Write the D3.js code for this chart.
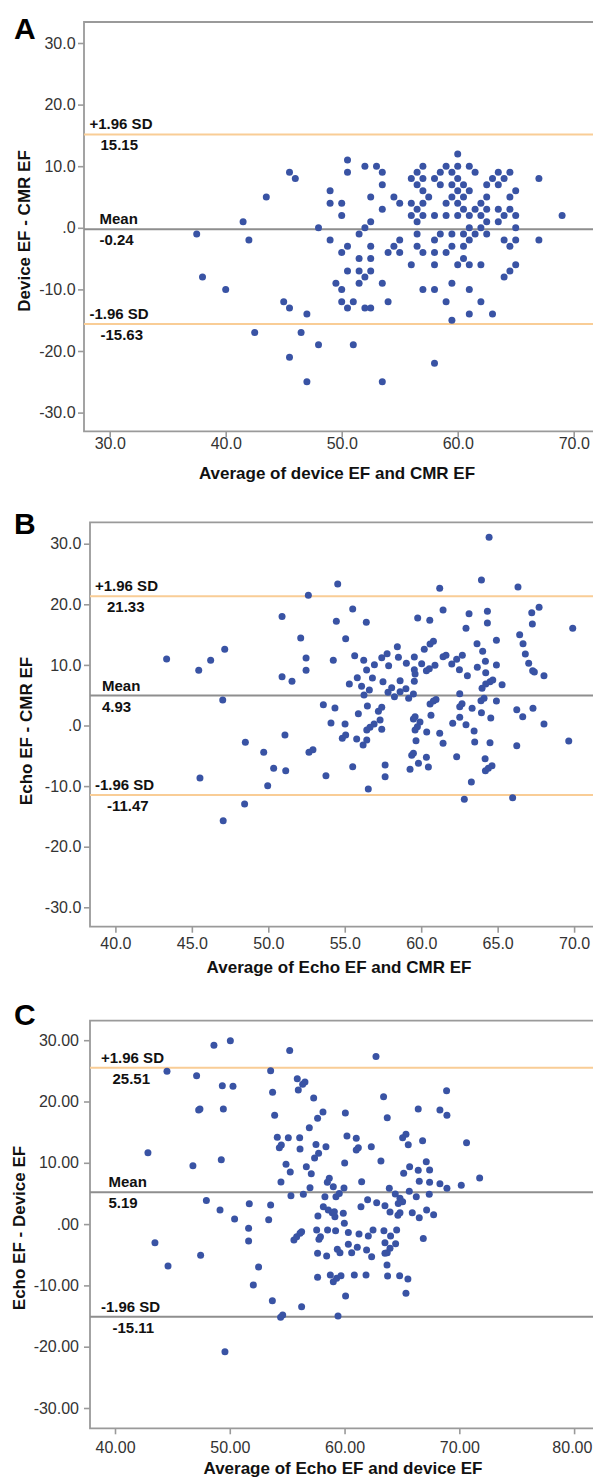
<!DOCTYPE html>
<html>
<head>
<meta charset="utf-8">
<script src="https://cdn.jsdelivr.net/npm/d3@7"></script>
<style>
body{margin:0;background:#fff}
text{font-family:"Liberation Sans",Arial,sans-serif}
</style>
</head>
<body>
<svg id="chart" width="593" height="1479"></svg>
<script>
//---tick values---
var yTicks=[-30,-20,-10,0,10,20,30]
var xTicksA=[30,40,50,60,70]
var xTicksB=[40,45,50,55,60,65,70]
var xTicksC=[40,50,60,70,80]

//---limits of agreement: +1.96 SD, mean, -1.96 SD---
var limitNames=["+1.96 SD","Mean","-1.96 SD"]
var limitsA=[15.15,-0.24,-15.63]
var limitsB=[21.33,4.93,-11.47]
var limitsC=[25.51,5.19,-15.11]

var xTitles=["Average of device EF and CMR EF","Average of Echo EF and CMR EF","Average of Echo EF and device EF"]
var yTitles=["Device EF - CMR EF","Echo EF - CMR EF","Echo EF - Device EF"]
var panelNames=["A","B","C"]

//---A: average (x), difference (y)---
var pointsA=[
[41.5,1],[43.5,5],[45.5,9],[46,8],[48,0],[49,6],[49,4],[50,4],[50,2],[50.5,11],[50.5,9],[52,10],[53,10],[53.5,9],[53.5,7],[52.5,5],[54.5,5],[53.5,3],[52.5,1],[52,0],
[55,4],[56,4],[56,8],[56.5,9],[57,10],[56.5,7],[57,8],[57,6],[57.5,5],[56.5,3],[57,4],[56,2],[56.5,1],[57,2],[58,2],[58,8],[58.5,9],[59,10],[58.5,7],[59.5,9],[59.5,7],[59,4],[59.5,5],[59,2],
[60,10],[60,8],[60,6],[60,4],[60,2],[60.5,7],[60.5,5],[60.5,3],[61,10],[61,6],[61.5,9],[61,2],[61.5,3],[61,0],[62,4],[62,2],[62,0],[62.5,7],[62.5,5],[62.5,3],[62.5,1],
[63,8],[63.5,9],[63.5,7],[63.5,3],[63.5,1],[64,8],[64,2],[64.5,9],[64.5,5],[64.5,3],[65,6],[65,2],[65,0],[67,8],[69,2],[60,12],
[37.5,-1],[42,-2],[38,-8],[40,-10],[45,-12],[45.5,-13],[47,-14],[42.5,-17],[46.5,-17],[48,-19],[51,-19],[45.5,-21],[47,-25],[53.5,-25],[49,-2],[51.5,-1],[50.5,-3],[50,-4],[52.5,-3],[54,-4],[54.5,-3],
[51.5,-5],[52.5,-5],[50.5,-7],[51.5,-7],[52.5,-7],[52,-8],[51.5,-9],[49.5,-9],[53.5,-9],[50,-10],[50,-12],[51,-12],[54,-12],[50.5,-13],[52,-13],[52.5,-13],
[56.5,-1],[58.5,-1],[59.5,-1],[60.5,-1],[61.5,-1],[62.5,-1],[55,-2],[58,-2],[61,-2],[64,-2],[65,-2],[67,-2],[56.5,-3],[59.5,-3],[60.5,-3],[64.5,-3],[55,-4],[57,-4],[58,-4],[59,-4],
[60.5,-5],[56,-6],[58,-6],[60,-6],[61,-6],[62,-6],[65,-6],[64.5,-7],[64,-8],[59.5,-9],[57,-10],[58,-10],[61,-10],[59,-12],[62,-12],[61,-14],[63,-14],[59.5,-15],[58,-22]
]

var pointsB=[
[54.54,23.35],[52.62,21.48],[55.52,19.22],[50.9,18.0],[54.45,17.19],[56.41,17.03],[52.12,14.44],[55.06,14.33],[43.35,10.97],[47.15,12.57],[46.23,10.75],[45.45,9.1],[52.47,11.14],[52.47,9.1],
[54.25,10.75],[55.65,11.52],[56.24,10.75],[50.9,8.06],[51.55,7.29],[55.82,7.89],[55.3,6.85],[56.1,6.46],[56.43,9.16],[47.02,4.21],[53.6,3.44],[54.36,2.89],[55.89,1.95],[54.1,0.41],[55.02,0.25],
[51.09,-1.57],[48.5,-2.78],[49.7,-4.43],[52.66,-4.43],[52.92,-3.99],[54.84,-2.12],[55.06,-1.57],[55.78,-2.23],[56.2,-3.2],[50.35,-7.07],[51.14,-7.46],[55.52,-6.8],[53.77,-8.28],[45.53,-8.66],
[49.96,-9.93],[56.54,-10.48],[48.45,-12.95],[47.05,-15.7],
[64.44,31.05],[63.94,24.01],[66.33,22.85],[61.21,22.63],[61.43,19.06],[63.13,18.45],[64.33,18.84],[64.33,16.91],[62.93,16.03],[67.23,18.62],[67.71,19.5],[67.27,16.75],[69.91,16.03],[59.77,17.74],
[60.56,17.35],[66.44,14.99],[66.66,13.5],[66.81,11.8],[67.03,10.26],[67.29,9.05],[67.4,8.83],[68.03,8.22],[64.92,14.05],[63.65,13.5],[64.02,12.24],[64.2,10.59],[64.92,9.98],[63.67,9.6],[64.22,8.72],
[63.02,8.22],[62.5,9.21],[62.69,11.58],[62.32,10.92],[62.0,10.15],[61.43,11.36],[61.62,11.58],[60.8,13.89],[60.58,13.45],[60.2,12.57],[60.9,9.93],[60.53,9.38],[60.34,9.05],[60.03,10.2],[59.55,11.3],
[59.55,9.21],[59.03,10.26],[58.44,13.01],[58.51,11.25],[57.87,9.87],[57.77,11.85],[57.42,11.19],[56.94,10.04],[56.81,7.84],[57.5,7.23],[58.62,7.4],[59.55,7.29],[59.6,8.5],[59.0,6.08],[59.49,5.2],
[59.18,4.48],[58.25,4.76],[58.62,5.58],[57.83,5.47],[58.07,6.24],[56.61,5.86],[56.26,5.03],[62.52,5.25],[63.98,6.13],[64.22,6.85],[64.5,7.23],[64.68,7.51],[65.29,6.74],[63.91,4.09],[64.11,4.48],
[64.92,4.04],[62.67,3.6],[62.52,3.11],[63.33,2.83],[63.94,2.12],[64.55,1.24],[62.52,1.35],[62.06,0.36],[62.93,0.14],[63.46,-0.91],[63.5,-2.72],[64.5,-2.83],[66.25,2.61],[66.64,1.46],[67.31,2.83],
[68.03,0.25],[66.25,-3.33],[69.65,-2.56],[62.32,-5.14],[64.18,-5.47],[64.2,-7.46],[64.39,-7.07],[64.63,-6.63],[63.28,-9.32],[62.82,-12.18],[65.98,-11.91],[61.21,-1.29],[61.43,-2.94],[60.36,-1.07],
[60.64,1.68],[59.92,0.58],[59.75,-0.19],[59.6,-0.74],[59.49,1.07],[59.6,1.46],[59.66,-2.5],[59.38,-4.92],[59.49,-4.59],[59.82,-6.24],[60.34,-5.25],[60.47,-6.85],[59.27,-7.24],[60.58,3.55],[60.8,4.04],
[60.97,4.31],[56.48,3.22],[57.42,3.0],[57.2,2.34],[57.31,0.91],[56.92,0.25],[56.65,-0.3],[56.44,-0.74],[57.42,-0.63],[56.44,-2.39],[57.64,-6.52],[57.64,-8.44]
]

var pointsC=[
[50.05,29.92],[48.62,29.16],[55.22,28.34],[44.53,24.92],[47.11,24.21],[53.56,25.03],[49.35,22.58],[50.28,22.47],[55.88,23.72],[56.55,23.18],[56.35,22.8],[55.97,21.87],[53.73,21.49],[57.31,20.57],
[47.4,18.77],[47.29,18.61],[49.44,18.77],[53.91,17.74],[58.12,18.28],[57.65,17.25],[56.93,15.73],[54.14,14.15],[55.1,14.1],[56.09,14.1],[54.49,12.9],[54.32,12.46],[56.12,12.25],[57.51,13.0],
[58.38,12.63],[57.74,11.54],[57.39,10.78],[42.87,11.65],[46.79,9.53],[49.26,10.51],[54.9,9.75],[55.27,8.5],[56.67,9.37],[57.1,8.22],[54.46,6.86],[58.67,7.46],[58.5,6.81],[56.99,5.94],[55.33,4.64],
[56.41,4.85],[47.96,3.87],[51.7,3.33],[53.56,3.11],[49.15,2.3],[50.42,0.83],[53.39,0.72],[51.64,-0.69],[51.64,-2.76],[43.48,-3.03],[47.46,-5.1],[44.62,-6.84],[52.51,-7.0],[52.05,-9.94],[53.71,-12.49],
[56.26,-13.47],[54.61,-14.83],[54.43,-15.21],[49.58,-20.81],[55.59,-2.6],[55.83,-2.05],[56.12,-1.51],[56.26,-1.24],[57.57,-0.97],[57.65,-4.77],[57.65,-8.69],[58.44,-5.21],[58.76,-8.31],[57.77,-2.49],
[57.9,-2.05],[58.52,-0.97],[58.15,2.84],[58.58,2.3],[58.93,1.86],[59.16,1.21],[57.68,1.32],[58.29,4.47],[59.43,-15.0],
[62.74,27.36],[68.89,21.76],[63.4,20.78],[66.42,18.77],[68.31,18.61],[68.92,17.74],[63.72,17.36],[60.07,18.12],[70.63,13.28],[65.35,14.64],[65.06,14.1],[65.55,12.95],[66.8,13.61],[60.21,14.37],
[61.02,13.99],[61.2,12.46],[61.02,12.08],[62.33,12.63],[60.01,9.96],[63.17,10.29],[67.12,10.18],[65.67,9.37],[65.15,8.28],[66.42,8.77],[67.41,8.82],[66.51,6.97],[67.41,6.81],[68.31,6.59],[68.92,5.83],
[70.17,6.32],[71.77,7.52],[61.49,6.92],[63.9,5.83],[65.64,5.34],[64.42,4.91],[66.25,4.47],[67.38,4.85],[64.83,4.2],[65.06,3.66],[64.68,3.38],[62.01,3.98],[62.8,3.5],[63.52,3.0],[61.43,2.84],[63.96,1.97],
[64.65,1.43],[64.83,1.86],[65.9,1.86],[66.51,1.05],[67.15,2.3],[67.76,1.53],[66.86,-2.33],[62.48,-0.97],[63.43,-1.08],[64.54,-0.97],[60.33,-1.35],[61.26,-1.62],[62.07,-1.95],[64.01,-1.95],[63.52,-3.03],
[64.45,-3.2],[60.33,-3.3],[61.11,-3.79],[60.62,-4.66],[61.92,-4.23],[62.36,-5.32],[63.96,-3.96],[63.72,-4.66],[63.52,-4.77],[63.7,-6.68],[60.85,-8.31],[61.87,-8.31],[63.75,-8.47],[64.8,-8.42],[65.52,-8.96],
[65.35,-11.3],[60.09,-11.73],[59.02,-9.4],[59.31,-8.85],[59.69,-8.42],[59.02,6.1],[59.95,5.88],[59.25,4.47],[59.54,5.0],[59.11,2.02],[59.89,1.75],[59.98,0.12],[59.22,-1.07],[59.37,-4.12],[59.6,-4.66]
]

//---layout of each panel (pixels)---
var ORANGE="#f9cd96", GREY="#8e8e8e", FRAME="#9a9a9a", DOT="#3953a4"
var panels=[
 {pts:pointsA, lims:limitsA, xTicks:xTicksA, dec:1, limColors:[ORANGE,GREY,ORANGE],
  left:84, top:22, bottom:431.3, xCal:[30,70,109.7,573.7], yCal:[-30,30,412.6,43.0],
  yPad:2.4, xPad:0.8, titleX:337, titleY:478.5, yTitleX:30, yTitleY:231, letterY:38.5,
  sdX:89.5, meanX:99.5, valX:100.5},
 {pts:pointsB, lims:limitsB, xTicks:xTicksB, dec:1, limColors:[ORANGE,GREY,ORANGE],
  left:90, top:522.3, bottom:926.7, xCal:[40,70,115.4,574.1], yCal:[-30,30,907.3,543.7],
  yPad:2.7, xPad:5.2, titleX:339, titleY:972.5, yTitleX:32, yTitleY:731, letterY:534,
  sdX:95, meanX:102, valX:107},
 {pts:pointsC, lims:limitsC, xTicks:xTicksC, dec:2, limColors:[ORANGE,GREY,GREY],
  left:90, top:1020.7, bottom:1428.3, xCal:[40,80,115,574.1], yCal:[-30,30,1408,1040.2],
  yPad:5, xPad:7.6, titleX:343, titleY:1474, yTitleX:24.6, yTitleY:1228, letterY:1025,
  sdX:101, meanX:108.5, valX:112.5}
]
var W=593

function fmt(dec)
{
    return function(v){
        var s=v.toFixed(dec)
        if(s.indexOf("0.")==0) s=s.slice(1)
        return s
    }
}

var svg=d3.select("#chart")

panels.forEach(function(p,i)
{
    var x=d3.scaleLinear().domain([p.xCal[0],p.xCal[1]]).range([p.xCal[2],p.xCal[3]])
    var y=d3.scaleLinear().domain([p.yCal[0],p.yCal[1]]).range([p.yCal[2],p.yCal[3]])
    var g=svg.append("g")

    //---axes (ticks + labels only, frame drawn below)---
    var ya=g.append("g").attr("transform","translate("+p.left+",0)")
      .call(d3.axisLeft(y).tickValues(yTicks).tickSize(6).tickPadding(p.yPad).tickFormat(fmt(p.dec)))
    var xa=g.append("g").attr("transform","translate(0,"+p.bottom+")")
      .call(d3.axisBottom(x).tickValues(p.xTicks).tickSize(6).tickPadding(p.xPad).tickFormat(fmt(p.dec)))
    ;[ya,xa].forEach(function(a){
        a.select(".domain").remove()
        a.selectAll("line").attr("stroke",FRAME).attr("stroke-width",1.6)
        a.selectAll("text").attr("fill","#333").attr("font-size",16)
          .attr("font-family","'Liberation Sans',Arial,sans-serif")
    })
    //---keep the last x label inside the page---
    xa.selectAll(".tick").each(function(d){
        var t=d3.select(this).select("text")
        var bb=t.node().getBBox()
        var right=x(d)+bb.x+bb.width
        if(right>W-1) t.attr("dx",(W-1-right)+"px")
    })

    //---frame: top, left, bottom---
    g.append("path")
      .attr("d","M"+W+","+p.top+"H"+p.left+"V"+p.bottom+"H"+W)
      .attr("fill","none").attr("stroke",FRAME).attr("stroke-width",1.8)

    //---limit lines---
    g.selectAll(".lim").data(p.lims).enter().append("line")
      .attr("x1",p.left).attr("x2",W)
      .attr("y1",function(d){return y(d)}).attr("y2",function(d){return y(d)})
      .attr("stroke",function(d,k){return p.limColors[k]}).attr("stroke-width",2)

    //---points---
    g.selectAll("circle").data(p.pts).enter().append("circle")
      .attr("cx",function(d){return x(d[0])})
      .attr("cy",function(d){return y(d[1])})
      .attr("r",3.5).attr("fill",DOT)

    //---limit labels---
    p.lims.forEach(function(v,k){
        var ly=y(v)
        g.append("text").attr("x",k==1?p.meanX:p.sdX).attr("y",ly-5)
          .attr("font-size",15).attr("font-weight","bold").attr("fill","#111").text(limitNames[k])
        g.append("text").attr("x",k==1?p.meanX:p.valX).attr("y",ly+16)
          .attr("font-size",15).attr("font-weight","bold").attr("fill","#111").text(v.toFixed(2))
    })

    //---titles---
    g.append("text").attr("x",p.titleX).attr("y",p.titleY).attr("text-anchor","middle")
      .attr("font-size",17).attr("font-weight","bold").attr("fill","#111").text(xTitles[i])
    g.append("text").attr("transform","translate("+p.yTitleX+","+p.yTitleY+") rotate(-90)")
      .attr("text-anchor","middle")
      .attr("font-size",17).attr("font-weight","bold").attr("fill","#111").text(yTitles[i])
    g.append("text").attr("x",14).attr("y",p.letterY)
      .attr("font-size",30).attr("font-weight","bold").attr("fill","#000").text(panelNames[i])
})
</script>
</body>
</html>
